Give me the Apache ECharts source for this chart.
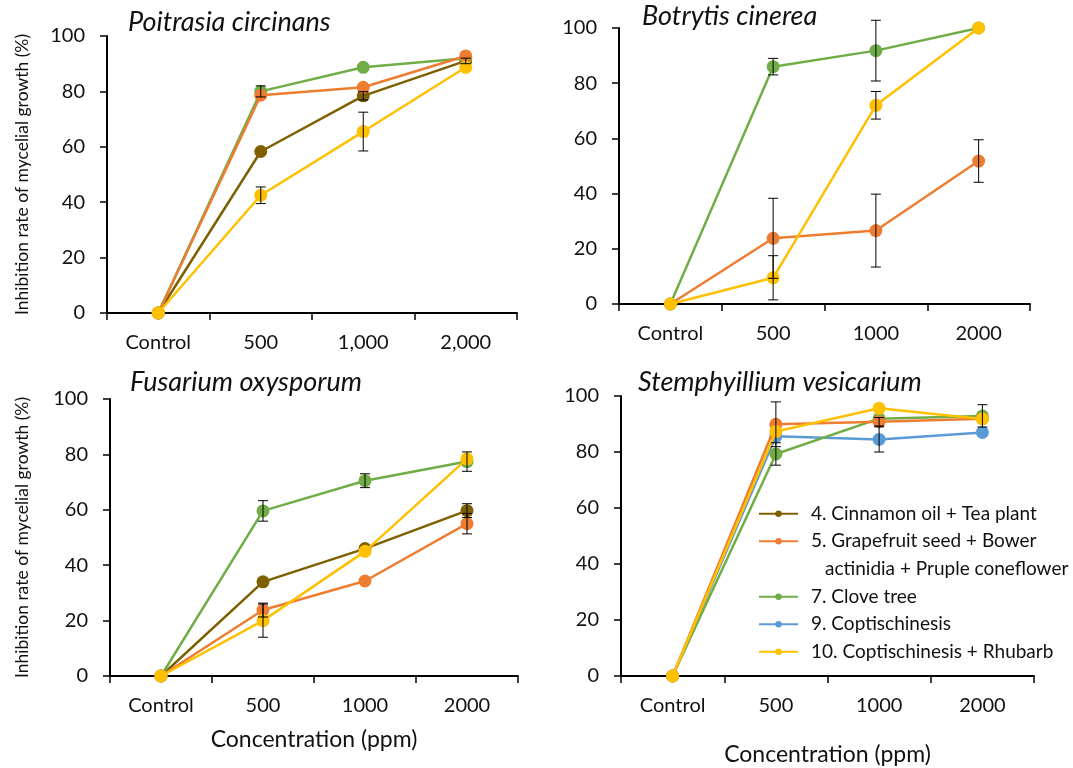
<!DOCTYPE html>
<html>
<head>
<meta charset="utf-8">
<script src="https://cdn.jsdelivr.net/npm/echarts@6/dist/echarts.min.js"></script>
<style>
html,body{margin:0;padding:0;background:#fff;}
#chart{width:1073px;height:768px;}
</style>
</head>
<body>
<div id="chart"></div>
<script>
// ---- Data ----
const categoriesComma = ['Control', '500', '1,000', '2,000'];
const categories = ['Control', '500', '1000', '2000'];
const yTicks = [0, 20, 40, 60, 80, 100];

const seriesNames = [
  '4. Cinnamon oil + Tea plant',
  '5. Grapefruit seed + Bower actinidia + Pruple coneflower',
  '7. Clove tree',
  '9. Coptischinesis',
  '10. Coptischinesis + Rhubarb'
];

// Poitrasia circinans
const pcCinnamon = [0, 58.3, 78.4, 91];
const pcGrapefruit = [0, 78.6, 81.5, 92.8];
const pcClove = [0, 80, 88.7, 92];
const pcCoptisRhubarb = [0, 42.5, 65.5, 88.7];
const pcCinnamonErr = [0, 0, 1.5, 1];
const pcGrapefruitErr = [0, 0, 0, 0];
const pcCloveErr = [0, 2, 0, 0];
const pcCoptisRhubarbErr = [0, 3, 7, 0];

// Botrytis cinerea
const bcGrapefruit = [0, 23.8, 26.6, 51.8];
const bcClove = [0, 86, 91.8, 100];
const bcCoptisRhubarb = [0, 9.5, 72, 100];
const bcGrapefruitErr = [0, 14.5, 13.2, 7.7];
const bcCloveErr = [0, 3, 11, 0];
const bcCoptisRhubarbErr = [0, 8, 5, 0];

// Fusarium oxysporum
const foCinnamon = [0, 34, 46, 59.7];
const foGrapefruit = [0, 23.8, 34.3, 55];
const foClove = [0, 59.6, 70.5, 77.4];
const foCoptisRhubarb = [0, 20, 45, 78.4];
const foCinnamonErr = [0, 0, 0, 2.5];
const foGrapefruitErr = [0, 2.5, 0, 3.7];
const foCloveErr = [0, 3.7, 2.5, 3.5];
const foCoptisRhubarbErr = [0, 6, 0, 0];

// Stemphyillium vesicarium
const svGrapefruit = [0, 89.9, 90.8, 91.9];
const svClove = [0, 79.3, 91.9, 92.9];
const svCoptis = [0, 85.6, 84.5, 87];
const svCoptisRhubarb = [0, 87.3, 95.6, 91.8];
const svGrapefruitErr = [0, 8, 1.5, 0];
const svCloveErr = [0, 4, 0, 4];
const svCoptisErr = [0, 0, 4.5, 0];
const svCoptisRhubarbErr = [0, 0, 0, 0];

const colors = ['#7F6000', '#ED7D31', '#70AD47', '#5B9BD5', '#FFC000'];
const FONT = 'Lato, "Open Sans", sans-serif';

// ---- Layout ----
const grids = [
  {left: 107, top: 36, width: 410, height: 277},
  {left: 619, top: 28, width: 411, height: 276},
  {left: 110, top: 399, width: 408, height: 277},
  {left: 621, top: 396, width: 413, height: 280}
];

function xAxisFor(i, cats, withName, nameGap) {
  return {
    type: 'category', gridIndex: i, data: cats, boundaryGap: true,
    axisLine: {lineStyle: {color: '#000', width: 2}},
    axisTick: {show: true, alignWithLabel: false, length: 7, lineStyle: {color: '#000', width: 1.5}},
    axisLabel: {color: '#111', fontSize: 20, fontFamily: FONT, margin: 20},
    name: withName ? 'Concentration (ppm)' : '',
    nameLocation: 'middle', nameGap: nameGap || 40,
    nameTextStyle: {color: '#111', fontSize: 23, fontFamily: FONT}
  };
}
function yAxisFor(i, withName, nameGap) {
  return {
    type: 'value', gridIndex: i, min: 0, max: 100, interval: 20,
    axisLine: {show: true, lineStyle: {color: '#000', width: 2}},
    axisTick: {show: true, length: 7, lineStyle: {color: '#000', width: 1.5}},
    splitLine: {show: false},
    axisLabel: {color: '#111', fontSize: 20, fontFamily: FONT, margin: 22},
    name: withName ? 'Inhibition rate of mycelial growth (%)' : '',
    nameLocation: 'middle', nameRotate: 90, nameGap: nameGap || 76,
    nameTextStyle: {color: '#111', fontSize: 17.5, fontFamily: FONT}
  };
}

function lineSeries(gi, nameIdx, data, z) {
  return {
    type: 'line', name: seriesNames[nameIdx], xAxisIndex: gi, yAxisIndex: gi,
    data: data, symbol: 'circle', symbolSize: 13,
    lineStyle: {color: colors[nameIdx], width: 2.5},
    itemStyle: {color: colors[nameIdx]},
    z: z || 2
  };
}
function errSeries(gi, values, errs) {
  const d = [];
  values.forEach((v, k) => { if (errs[k] > 0) d.push([k, v, errs[k]]); });
  return {
    type: 'custom', name: 'error', xAxisIndex: gi, yAxisIndex: gi, clip: false, z: 10,
    silent: true,
    data: d,
    renderItem: function (params, api) {
      const x = api.value(0), v = api.value(1), e = api.value(2);
      const top = api.coord([x, v + e]);
      const bot = api.coord([x, v - e]);
      const c = 5;
      const st = {stroke: '#000', lineWidth: 1};
      return {
        type: 'group',
        children: [
          {type: 'line', shape: {x1: top[0], y1: top[1], x2: bot[0], y2: bot[1]}, style: st},
          {type: 'line', shape: {x1: top[0] - c, y1: top[1], x2: top[0] + c, y2: top[1]}, style: st},
          {type: 'line', shape: {x1: bot[0] - c, y1: bot[1], x2: bot[0] + c, y2: bot[1]}, style: st}
        ]
      };
    }
  };
}

const series = [
  // panel 0
  lineSeries(0, 0, pcCinnamon, 2), lineSeries(0, 2, pcClove, 3), lineSeries(0, 1, pcGrapefruit, 4), lineSeries(0, 4, pcCoptisRhubarb, 5),
  errSeries(0, pcCinnamon, pcCinnamonErr), errSeries(0, pcGrapefruit, pcGrapefruitErr),
  errSeries(0, pcClove, pcCloveErr), errSeries(0, pcCoptisRhubarb, pcCoptisRhubarbErr),
  // panel 1
  lineSeries(1, 1, bcGrapefruit, 2), lineSeries(1, 2, bcClove, 3), lineSeries(1, 4, bcCoptisRhubarb, 4),
  errSeries(1, bcGrapefruit, bcGrapefruitErr), errSeries(1, bcClove, bcCloveErr), errSeries(1, bcCoptisRhubarb, bcCoptisRhubarbErr),
  // panel 2
  lineSeries(2, 0, foCinnamon, 2), lineSeries(2, 1, foGrapefruit, 3), lineSeries(2, 2, foClove, 4), lineSeries(2, 4, foCoptisRhubarb, 5),
  errSeries(2, foCinnamon, foCinnamonErr), errSeries(2, foGrapefruit, foGrapefruitErr),
  errSeries(2, foClove, foCloveErr), errSeries(2, foCoptisRhubarb, foCoptisRhubarbErr),
  // panel 3
  lineSeries(3, 3, svCoptis, 2), lineSeries(3, 2, svClove, 3), lineSeries(3, 1, svGrapefruit, 4), lineSeries(3, 4, svCoptisRhubarb, 5),
  errSeries(3, svGrapefruit, svGrapefruitErr), errSeries(3, svClove, svCloveErr),
  errSeries(3, svCoptis, svCoptisErr), errSeries(3, svCoptisRhubarb, svCoptisRhubarbErr)
];

const titleStyle = {fontSize: 27, fontStyle: 'italic', fontWeight: 'normal', color: '#111', fontFamily: FONT};
const legendText = {fontSize: 19, color: '#111', fontFamily: FONT, lineHeight: 27.5, padding: [0, 0, 0, 8]};

const chart = echarts.init(document.getElementById('chart'), null, {renderer: 'canvas'});
chart.setOption({
  animation: false,
  backgroundColor: '#fff',
  title: [
    {text: 'Poitrasia circinans', left: 128, top: 9, padding: 0, textStyle: titleStyle},
    {text: 'Botrytis cinerea', left: 642, top: 3, padding: 0, textStyle: titleStyle},
    {text: 'Fusarium oxysporum', left: 130, top: 369, padding: 0, textStyle: titleStyle},
    {text: 'Stemphyillium vesicarium', left: 638, top: 369, padding: 0, textStyle: titleStyle}
  ],
  legend: [
    {
      data: [seriesNames[0], seriesNames[1]], orient: 'vertical', left: 758, top: 500,
      itemWidth: 39, itemHeight: 8, itemGap: 0, padding: 0, selectedMode: false,
      formatter: function (n) { return n === seriesNames[1] ? '5. Grapefruit seed + Bower' : n; },
      textStyle: legendText
    },
    {
      data: [seriesNames[2], seriesNames[3], seriesNames[4]], orient: 'vertical', left: 758, top: 583,
      itemWidth: 39, itemHeight: 8, itemGap: 0, padding: 0, selectedMode: false,
      textStyle: legendText
    }
  ],
  graphic: [
    {type: 'text', left: 825, top: 559, style: {text: 'actinidia + Pruple coneflower', fill: '#111', font: '19px ' + FONT}}
  ],
  grid: grids,
  xAxis: [
    xAxisFor(0, categoriesComma, false),
    xAxisFor(1, categories, false),
    xAxisFor(2, categories, true, 52),
    xAxisFor(3, categories, true, 67)
  ],
  yAxis: [yAxisFor(0, true, 76), yAxisFor(1, false), yAxisFor(2, true, 79), yAxisFor(3, false)],
  series: series
});
</script>
</body>
</html>
